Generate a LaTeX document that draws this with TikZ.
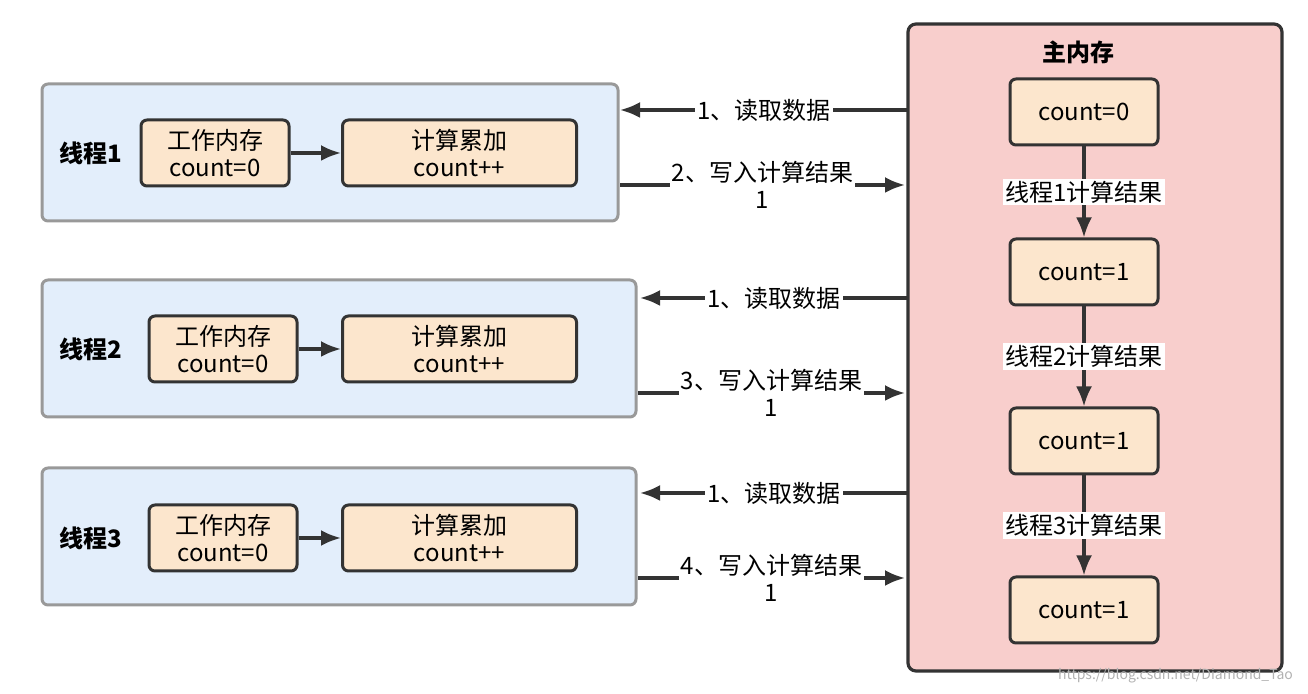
\documentclass[tikz,border=0pt]{standalone}
\usepackage{fontspec}
\setmainfont{Noto Sans CJK SC}
\usetikzlibrary{arrows.meta}
\definecolor{mainpink}{HTML}{F8CECC}
\definecolor{cellfill}{HTML}{FCE6CD}
\definecolor{threadblue}{HTML}{E3EEFB}
\definecolor{edgegray}{HTML}{333333}

\begin{document}
\begin{tikzpicture}[x=0.5pt, y=-0.5pt,
  font=\fontsize{12}{13.5}\selectfont,
  cell/.style={draw=edgegray, line width=1.5pt, fill=cellfill, rounded corners=3pt},
  thread/.style={draw=gray!80, line width=1.5pt, fill=threadblue, rounded corners=3pt},
  flow/.style={draw=edgegray, line width=1.6pt, -{Latex[length=10pt,width=8pt]}},
  lbl/.style={fill=white, inner sep=1pt, align=center}]
  \useasboundingbox (0,0) rectangle (1308,694);

  % main memory
  \draw[draw=edgegray, line width=1.6pt, fill=mainpink, rounded corners=4pt] (908,24) rectangle (1282,671);
  \node[font=\fontsize{12}{13}\selectfont\bfseries] (mem) at (1078,52) {主内存};
  \node[cell, minimum width=74pt, minimum height=33pt] (c0) at (1084,112) {count=0};
  \node[cell, minimum width=74pt, minimum height=33pt] (c1) at (1084,272) {count=1};
  \node[cell, minimum width=74pt, minimum height=33pt] (c2) at (1084,441) {count=1};
  \node[cell, minimum width=74pt, minimum height=33pt] (c3) at (1084,610) {count=1};
  \draw[flow] (c0) -- node[lbl] {线程1计算结果} (c1);
  \draw[flow] (c1) -- node[lbl] {线程2计算结果} (c2);
  \draw[flow] (c2) -- node[lbl] {线程3计算结果} (c3);

  % threads
  \draw[thread] (42,84) rectangle (618,221);
  \draw[thread] (42,280) rectangle (636,417);
  \draw[thread] (42,468) rectangle (636,605);
  \foreach \i/\y/\wx in {1/153/215, 2/349/223, 3/538/223} {
    \node[font=\fontsize{12}{13}\selectfont\bfseries] (t\i) at (91,\y) {线程\i};
    \node[cell, minimum width=74pt, minimum height=33pt, align=center, inner sep=1pt] (w\i) at (\wx,\y) {工作内存\\count=0};
    \node[cell, minimum width=117pt, minimum height=33pt, align=center, inner sep=1pt] (s\i) at (459.5,\y) {计算累加\\count++};
    \draw[flow] (w\i) -- (s\i);
  }

  % read / write
  \coordinate (r1a) at (908,110); \coordinate (r1b) at (620,110);
  \coordinate (r2a) at (908,298); \coordinate (r2b) at (640,298);
  \coordinate (r3a) at (908,493); \coordinate (r3b) at (640,493);
  \draw[flow] (r1a) -- node[lbl] {1、读取数据} (r1b);
  \draw[flow] (r2a) -- node[lbl] {1、读取数据} (r2b);
  \draw[flow] (r3a) -- node[lbl] {1、读取数据} (r3b);

  \coordinate (w1a) at (620,185); \coordinate (w1b) at (905,185);
  \coordinate (w2a) at (638,393); \coordinate (w2b) at (905,393);
  \coordinate (w3a) at (638,578); \coordinate (w3b) at (905,578);
  \draw[flow] (w1a) -- node[lbl] {2、写入计算结果\\1} (w1b);
  \draw[flow] (w2a) -- node[lbl] {3、写入计算结果\\1} (w2b);
  \draw[flow] (w3a) -- node[lbl] {4、写入计算结果\\1} (w3b);

  \node[text=gray!60, font=\fontsize{7}{8}\selectfont, anchor=south east] (mark) at (1300,690) {https://blog.csdn.net/Diamond\_Tao};
\end{tikzpicture}
\end{document}
